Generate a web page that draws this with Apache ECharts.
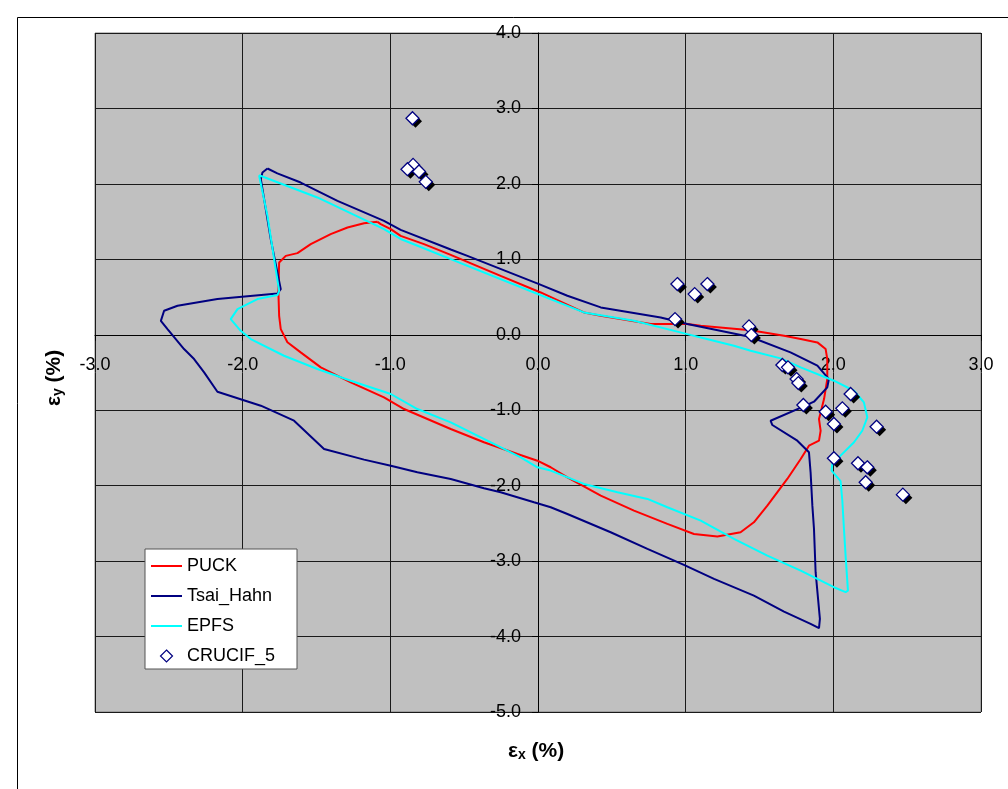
<!DOCTYPE html>
<html>
<head>
<meta charset="utf-8">
<script src="https://cdn.jsdelivr.net/npm/echarts@6/dist/echarts.min.js"></script>
<style>
html,body{margin:0;padding:0;background:#fff;}
#chart{width:1008px;height:789px;}
</style>
</head>
<body>
<div id="chart"></div>
<script>
// ---- data (strain %) ----
var puckX = [-1.087,-1.065,-0.997,-0.93,-0.772,-0.591,-0.253,0.018,0.311,0.425,0.763,1.011,1.102,1.44,1.666,1.779,1.892,1.948,1.959,1.959,1.937,1.903,1.914,1.903,1.835,1.779,1.688,1.553,1.462,1.372,1.215,1.056,0.876,0.65,0.425,0.199,0.086,-0.004,-0.139,-0.366,-0.591,-0.907,-1.043,-1.268,-1.471,-1.607,-1.697,-1.742,-1.753,-1.758,-1.753,-1.708,-1.629,-1.539,-1.404,-1.29,-1.178,-1.087];
var puckY = [1.497,1.466,1.40,1.311,1.201,1.06,0.781,0.561,0.296,0.252,0.142,0.142,0.119,0.06,-0.013,-0.057,-0.101,-0.189,-0.322,-0.587,-0.852,-1.117,-1.272,-1.404,-1.47,-1.646,-1.911,-2.265,-2.485,-2.617,-2.675,-2.64,-2.507,-2.331,-2.132,-1.889,-1.756,-1.669,-1.58,-1.425,-1.249,-0.984,-0.829,-0.631,-0.432,-0.233,-0.1,0.075,0.252,0.561,0.958,1.046,1.082,1.201,1.334,1.422,1.479,1.497];

var tsaiX = [-1.832,-1.765,-1.607,-1.358,-1.043,-0.93,-0.591,-0.478,0.007,0.199,0.425,0.831,1.011,1.44,1.71,1.892,1.97,1.959,1.869,1.80,1.575,1.587,1.756,1.835,1.846,1.858,1.869,1.88,1.909,1.903,1.846,1.666,1.462,1.192,0.988,0.741,0.492,0.199,0.086,-0.027,-0.253,-0.366,-0.591,-0.817,-0.997,-1.178,-1.449,-1.652,-1.877,-2.171,-2.261,-2.329,-2.397,-2.509,-2.554,-2.532,-2.441,-2.171,-1.764,-1.742,-1.81,-1.877,-1.866,-1.832];
var tsaiY = [2.204,2.14,2.018,1.775,1.51,1.39,1.13,1.046,0.672,0.517,0.363,0.23,0.142,-0.03,-0.233,-0.41,-0.587,-0.697,-0.887,-0.95,-1.139,-1.196,-1.404,-1.558,-1.823,-2.265,-2.574,-3.147,-3.766,-3.889,-3.832,-3.669,-3.457,-3.236,-3.05,-2.838,-2.617,-2.375,-2.286,-2.22,-2.087,-2.035,-1.911,-1.823,-1.735,-1.655,-1.514,-1.139,-0.94,-0.755,-0.498,-0.322,-0.189,0.075,0.185,0.318,0.384,0.473,0.548,0.605,1.268,2.062,2.151,2.204];

var epfsX = [-1.889,-1.494,-1.043,-0.93,-0.591,-0.478,-0.027,0.311,0.65,1.011,1.102,1.327,1.44,1.643,1.779,2.004,2.14,2.207,2.23,2.196,2.14,2.049,1.993,1.988,2.049,2.061,2.072,2.083,2.099,2.083,2.004,1.779,1.553,1.327,1.102,0.876,0.741,0.538,0.311,0.086,-0.004,-0.117,-0.275,-0.591,-0.817,-0.997,-1.268,-1.494,-1.72,-1.945,-2.013,-2.081,-2.035,-1.9,-1.764,-1.753,-1.787,-1.832,-1.889];
var epfsY = [2.115,1.82,1.40,1.27,1.003,0.914,0.561,0.296,0.185,0.009,-0.035,-0.146,-0.212,-0.313,-0.432,-0.609,-0.742,-0.896,-1.094,-1.272,-1.425,-1.602,-1.713,-1.801,-1.94,-2.2,-2.574,-2.927,-3.391,-3.412,-3.346,-3.126,-2.927,-2.706,-2.464,-2.286,-2.176,-2.087,-1.977,-1.8,-1.757,-1.624,-1.47,-1.161,-0.984,-0.785,-0.609,-0.454,-0.278,-0.057,0.053,0.208,0.34,0.473,0.526,0.583,1.003,1.576,2.115];

var crucifX = [-0.85,-0.846,-0.884,-0.806,-0.76,0.944,1.061,1.147,0.928,1.429,1.445,1.655,1.693,1.751,1.763,1.797,1.948,2.061,2.004,2.117,2.293,2.004,2.167,2.23,2.219,2.471];
var crucifY = [2.87,2.252,2.195,2.164,2.027,0.672,0.539,0.672,0.208,0.111,-0.004,-0.401,-0.432,-0.587,-0.64,-0.931,-1.02,-0.975,-1.183,-0.785,-1.218,-1.637,-1.703,-1.757,-1.955,-2.119];

var seriesNames = ['PUCK','Tsai_Hahn','EPFS','CRUCIF_5'];
var xTickMin = -3, xTickMax = 3, yTickMin = -5, yTickMax = 4, tickStep = 1;

function zip(xs, ys){ var o=[]; for(var i=0;i<xs.length;i++) o.push([xs[i], ys[i]]); return o; }

var FONT = '"Liberation Sans", Arial, sans-serif';
var chart = echarts.init(document.getElementById('chart'), null, {renderer:'canvas'});

// plot-area geometry
var GL = 95, GT = 33, GW = 886, GH = 679;
// put the axes through the origin (0,0)
var xAxisOffset = -GH * (0 - yTickMin) / (yTickMax - yTickMin);
var yAxisOffset = -GW * (0 - xTickMin) / (xTickMax - xTickMin);

function lineSeries(name, xs, ys, color){
  return {
    name: name, type: 'line', data: zip(xs, ys),
    symbol: 'none', smooth: false, animation: false,
    lineStyle: {color: color, width: 2}, itemStyle: {color: color},
    z: 3
  };
}

var LINE_ICON = 'path://M0,0 L31,0 L31,2 L0,2 Z';
var MARK_SIZE = 13;

chart.setOption({
  animation: false,
  backgroundColor: '#ffffff',
  grid: {left: GL, top: GT, width: GW, height: GH, show: true,
         backgroundColor: '#c0c0c0', borderColor: '#808080', borderWidth: 1},
  xAxis: {
    type: 'value', min: xTickMin, max: xTickMax, interval: tickStep,
    position: 'bottom', offset: xAxisOffset,
    axisLine: {onZero: false, lineStyle: {color: '#000', width: 1}},
    axisTick: {show: true, length: 6, lineStyle: {color: '#000'}},
    axisLabel: {color: '#000', fontSize: 18, fontFamily: FONT, margin: 21,
                formatter: function(v){ return v.toFixed(1); }},
    splitLine: {show: true, lineStyle: {color: '#1a1a1a', width: 1}}
  },
  yAxis: {
    type: 'value', min: yTickMin, max: yTickMax, interval: tickStep,
    position: 'left', offset: yAxisOffset,
    axisLine: {onZero: false, lineStyle: {color: '#000', width: 1}},
    axisTick: {show: true, length: 6, lineStyle: {color: '#000'}},
    axisLabel: {color: '#000', fontSize: 18, fontFamily: FONT, margin: 17,
                formatter: function(v){ return v.toFixed(1); }},
    splitLine: {show: true, lineStyle: {color: '#1a1a1a', width: 1}}
  },
  legend: {
    orient: 'vertical', left: 145, top: 549,
    backgroundColor: '#ffffff', borderColor: '#555', borderWidth: 1,
    padding: [8, 22, 4, 6], itemGap: 12, itemWidth: 31, itemHeight: 12,
    symbolKeepAspect: true,
    textStyle: {color: '#000', fontSize: 18, fontFamily: FONT, lineHeight: 18},
    data: [
      {name: seriesNames[0], icon: LINE_ICON, itemStyle: {color: '#ff0000'}},
      {name: seriesNames[1], icon: LINE_ICON, itemStyle: {color: '#000080'}},
      {name: seriesNames[2], icon: LINE_ICON, itemStyle: {color: '#00ffff'}},
      {name: seriesNames[3], icon: 'path://M5,0 L10,5 L5,10 L0,5 Z',
       itemStyle: {color: '#fff', borderColor: '#000080', borderWidth: 1.2}}
    ]
  },
  series: [
    lineSeries(seriesNames[0], puckX, puckY, '#ff0000'),
    lineSeries(seriesNames[1], tsaiX, tsaiY, '#000080'),
    lineSeries(seriesNames[2], epfsX, epfsY, '#00ffff'),
    {
      // drop shadow of the CRUCIF_5 markers (same points, drawn underneath)
      name: 'CRUCIF_5 shadow', type: 'scatter', data: zip(crucifX, crucifY),
      symbol: 'diamond', symbolSize: MARK_SIZE, symbolOffset: [3, 3], z: 4, silent: true,
      itemStyle: {color: '#000000', opacity: 1}, tooltip: {show: false}
    },
    {
      name: seriesNames[3], type: 'scatter', data: zip(crucifX, crucifY),
      symbol: 'diamond', symbolSize: MARK_SIZE, z: 5,
      itemStyle: {color: '#ffffff', borderColor: '#000080', borderWidth: 1.3, opacity: 1}
    }
  ],
  graphic: [
    {type: 'rect', shape: {x: 17.5, y: 17.5, width: 1100, height: 1000}, silent: true,
     style: {fill: 'none', stroke: '#000', lineWidth: 1}, z: -1},
    {type: 'text', left: 508, top: 741, silent: true,
     style: {text: '{m|ε}{s|x}{m| (%)}', rich: {
       m: {fontSize: 21, fontWeight: 'bold', fontFamily: FONT, fill: '#000', verticalAlign: 'bottom', lineHeight: 25},
       s: {fontSize: 14, fontWeight: 'bold', fontFamily: FONT, fill: '#000', verticalAlign: 'bottom', lineHeight: 19}
     }}},
    {type: 'text', x: 40, y: 406, rotation: Math.PI/2, silent: true,
     style: {text: '{m|ε}{s|y}{m| (%)}', rich: {
       m: {fontSize: 21, fontWeight: 'bold', fontFamily: FONT, fill: '#000', verticalAlign: 'bottom', lineHeight: 25},
       s: {fontSize: 14, fontWeight: 'bold', fontFamily: FONT, fill: '#000', verticalAlign: 'bottom', lineHeight: 19}
     }}}
  ]
});
</script>
</body>
</html>
